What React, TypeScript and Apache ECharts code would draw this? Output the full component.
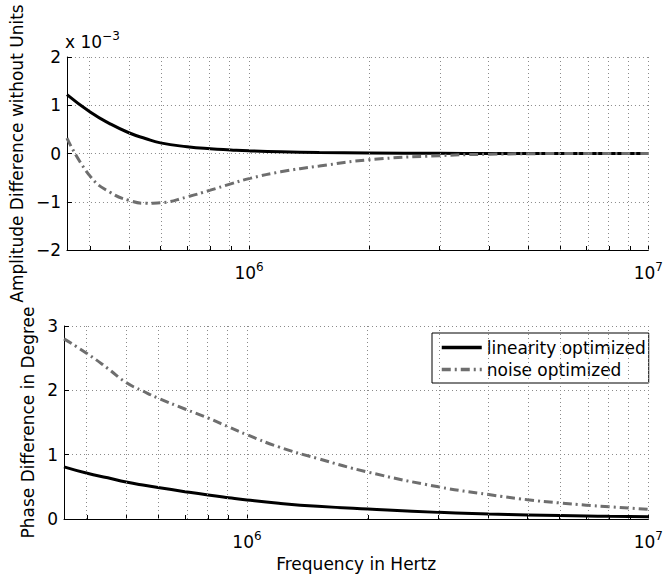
import React, { useEffect, useRef } from "react";
import * as echarts from "echarts";

const FONT = "DejaVu Sans";

// Frequencies in Hz
const freqHz = [3.5e5, 4e5, 4.5e5, 5e5, 5.5e5, 6e5, 7e5, 8e5, 9e5, 1e6, 1.2e6, 1.5e6, 2e6, 3e6, 4e6, 5e6, 6e6, 7e6, 8e6, 1e7];

// Amplitude difference (x 10^-3)
const ampLinearity = [1.22, 0.86, 0.61, 0.43, 0.31, 0.22, 0.14, 0.097, 0.073, 0.055, 0.035, 0.02, 0.01, 0.004, 0.001, 0, 0, 0, 0, 0];
const ampNoise = [0.32, -0.47, -0.81, -0.97, -1.03, -1.02, -0.9, -0.76, -0.63, -0.52, -0.38, -0.26, -0.13, -0.045, -0.015, -0.005, 0, 0, 0, 0];

// Phase difference in degree
const phaseLinearity = [0.81, 0.71, 0.64, 0.575, 0.527, 0.49, 0.425, 0.372, 0.33, 0.295, 0.245, 0.198, 0.155, 0.103, 0.078, 0.063, 0.053, 0.046, 0.041, 0.035];
const phaseNoise = [2.8, 2.57, 2.34, 2.12, 1.99, 1.88, 1.71, 1.57, 1.43, 1.31, 1.12, 0.94, 0.73, 0.5, 0.38, 0.3, 0.25, 0.215, 0.19, 0.15];

// Grid / tick frequencies and labelled decades
const gridFreqs = [4e5, 5e5, 6e5, 7e5, 8e5, 9e5, 1e6, 2e6, 3e6, 4e6, 5e6, 6e6, 7e6, 8e6, 9e6, 1e7];
const labelDecades = [6, 7];
const freqMin = 3.5e5;
const freqMax = 1e7;

const seriesNames = ["linearity optimized", "noise optimized"];

export default function App() {
  const ref = useRef<HTMLDivElement>(null);

  useEffect(() => {
    if (!ref.current) return;
    const chart = echarts.init(ref.current, null, { renderer: "svg" });

    const toLog = (f: number) => Math.log10(f);
    const pts = (vals: number[]) => freqHz.map((f, i) => [toLog(f), vals[i]]);
    const gridLogs = gridFreqs.map(toLog);

    const xAxisBase = (gi: number, showName: boolean) => ({
      type: "value",
      gridIndex: gi,
      min: toLog(freqMin),
      max: toLog(freqMax),
      name: showName ? "Frequency in Hertz" : "",
      nameLocation: "middle",
      nameGap: 36,
      nameTextStyle: { fontFamily: FONT, fontSize: 17, color: "#000" },
      axisLine: { show: true, onZero: false, lineStyle: { color: "#000", width: 1 } },
      axisTick: { show: true, inside: true, length: 4, customValues: gridLogs, lineStyle: { color: "#000" } },
      axisLabel: {
        show: true,
        customValues: labelDecades,
        margin: 11,
        formatter: (v: number) => "{b|10}{s|" + Math.round(v) + "}",
        rich: {
          b: { fontFamily: FONT, fontSize: 17, color: "#000", verticalAlign: "bottom" },
          s: { fontFamily: FONT, fontSize: 12, color: "#000", verticalAlign: "bottom", padding: [0, 0, 8, 0] },
        },
      },
      splitLine: { show: false },
    });

    const yFmt = (v: number) => (v < 0 ? "\u2212" + Math.abs(v) : String(v));

    const yAxisBase = (gi: number, min: number, max: number, name: string, gap: number) => ({
      type: "value",
      gridIndex: gi,
      min,
      max,
      interval: 1,
      name,
      nameLocation: "middle",
      nameGap: gap,
      nameTextStyle: { fontFamily: FONT, fontSize: 17, color: "#000" },
      axisLine: { show: true, lineStyle: { color: "#000", width: 1 } },
      axisTick: { show: true, inside: true, length: 5, lineStyle: { color: "#000" } },
      axisLabel: { fontFamily: FONT, fontSize: 17, color: "#000", margin: 6, formatter: yFmt },
      splitLine: { show: true, lineStyle: { color: "#8a8a8a", width: 1, type: [1, 3] } },
    });

    const gridSeries = (gi: number) => ({
      type: "line",
      name: "grid" + gi,
      xAxisIndex: gi,
      yAxisIndex: gi,
      data: [],
      silent: true,
      z: 1,
      markLine: {
        silent: true,
        symbol: ["none", "none"],
        label: { show: false },
        lineStyle: { color: "#8a8a8a", width: 1, type: [1, 3] },
        emphasis: { disabled: true },
        data: gridLogs.map((x) => ({ xAxis: x })),
        animation: false,
      },
    });

    const solid = { color: "#000", width: 3, type: "solid" };
    const dashdot = { color: "#6e6e6e", width: 3, type: [9, 4, 2, 4] };

    const lineSeries = (gi: number, name: string, vals: number[], style: any) => ({
      type: "line",
      name,
      xAxisIndex: gi,
      yAxisIndex: gi,
      data: pts(vals),
      showSymbol: false,
      symbol: "none",
      smooth: 0.5,
      z: 3,
      lineStyle: style,
      itemStyle: { color: style.color },
      emphasis: { disabled: true },
    });

    chart.setOption({
      animation: false,
      backgroundColor: "#fff",
      textStyle: { fontFamily: FONT },
      grid: [
        { left: 64, top: 57, width: 588, height: 193 },
        { left: 64, top: 326, width: 588, height: 193 },
      ],
      xAxis: [xAxisBase(0, false), xAxisBase(1, true)],
      yAxis: [
        yAxisBase(0, -2, 2, "Amplitude Difference without Units", 37),
        yAxisBase(1, 0, 3, "Phase Difference in Degree", 21),
      ],
      legend: {
        data: seriesNames,
        orient: "vertical",
        left: 432,
        top: 333,
        padding: [6, 3, 5, 8],
        itemGap: 5,
        itemWidth: 40,
        itemHeight: 14,
        borderColor: "#000",
        borderWidth: 1,
        backgroundColor: "#fff",
        itemStyle: { color: "rgba(0,0,0,0)", borderWidth: 0, opacity: 0 },
        lineStyle: { width: 3.5 },
        textStyle: { fontFamily: FONT, fontSize: 17, color: "#000" },
        selectedMode: false,
      },
      graphic: [
        {
          type: "text",
          left: 65,
          top: 30,
          style: {
            text: "{a|x 10}{b|\u22123}",
            rich: {
              a: { fontFamily: FONT, fontSize: 17, fill: "#000", verticalAlign: "bottom" },
              b: { fontFamily: FONT, fontSize: 12, fill: "#000", verticalAlign: "bottom", padding: [0, 0, 8, 0] },
            },
          },
        },
      ],
      series: [
        gridSeries(0),
        gridSeries(1),
        lineSeries(0, seriesNames[0], ampLinearity, solid),
        lineSeries(0, seriesNames[1], ampNoise, dashdot),
        lineSeries(1, seriesNames[0], phaseLinearity, solid),
        lineSeries(1, seriesNames[1], phaseNoise, dashdot),
      ],
    });

    return () => chart.dispose();
  }, []);

  return (
    <div
      ref={ref}
      style={{ position: "absolute", left: 0, top: 0, width: 666, height: 575, background: "#fff" }}
    />
  );
}
